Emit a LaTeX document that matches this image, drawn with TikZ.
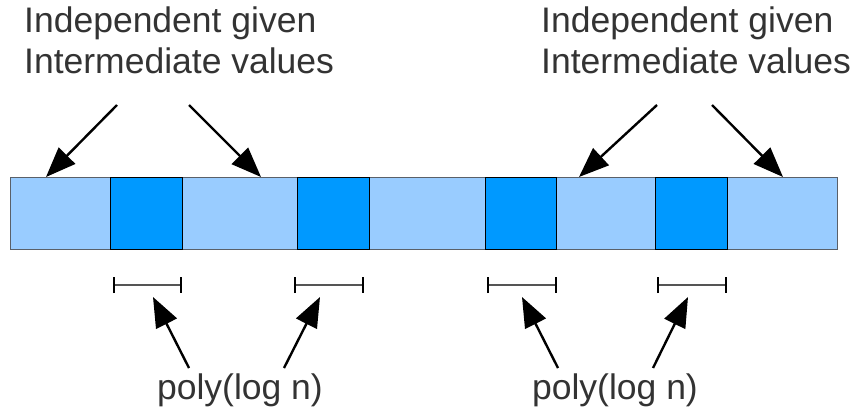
\documentclass[tikz,border=0pt]{standalone}
\usepackage{fontspec}
\setmainfont{Liberation Sans}
\usetikzlibrary{arrows.meta}
\definecolor{lightseg}{HTML}{99CCFF}
\definecolor{darkseg}{HTML}{0099FF}
\definecolor{segline}{HTML}{5A6068}
\definecolor{txt}{HTML}{333333}
\definecolor{brk}{HTML}{555555}
\begin{document}
\begin{tikzpicture}[x=1pt,y=-1pt,
  lightbox/.style={draw=segline,line width=1pt,fill=lightseg},
  darkbox/.style={draw=black,line width=1pt,fill=darkseg},
  ptr/.style={draw=black,line width=2.4pt,-{Triangle[length=30pt,width=23pt]}},
  span/.style={draw=brk,line width=1.3pt,{Bar[width=16pt,line width=1.6pt,color=black]}-{Bar[width=16pt,line width=1.6pt,color=black]}},
  lbl/.style={font=\fontsize{35.5}{41}\selectfont,text=txt,inner sep=0pt,align=left},
]
\useasboundingbox (0,0) rectangle (856,417);
% bar segments
\path[lightbox] (10,177) rectangle (110,249);
\path[lightbox] (182,177) rectangle (297,249);
\path[lightbox] (369,177) rectangle (485,249);
\path[lightbox] (556,177) rectangle (655,249);
\path[lightbox] (727,177) rectangle (837,249);
\path[darkbox] (110,177) rectangle (182,249);
\path[darkbox] (297,177) rectangle (369,249);
\path[darkbox] (485,177) rectangle (556,249);
\path[darkbox] (655,177) rectangle (727,249);
% labels
\node[lbl,anchor=base west] (tl) at (24,74) {Independent given\\Intermediate values};
\node[lbl,anchor=base west] (tr) at (541,74) {Independent given\\Intermediate values};
\node[lbl,anchor=base] (bl) at (240,399) {poly(log n)};
\node[lbl,anchor=base] (br) at (615,399) {poly(log n)};
% arrow coordinates
\coordinate (a1s) at (117,105); \coordinate (a1e) at (46,177);
\coordinate (a2s) at (189,105); \coordinate (a2e) at (261,177);
\coordinate (a3s) at (657,105); \coordinate (a3e) at (579,177);
\coordinate (a4s) at (712,105); \coordinate (a4e) at (783,177);
\coordinate (b1s) at (189,368); \coordinate (b1e) at (153,297);
\coordinate (b2s) at (284,368); \coordinate (b2e) at (320,297);
\coordinate (b3s) at (558,368); \coordinate (b3e) at (522,297);
\coordinate (b4s) at (653,368); \coordinate (b4e) at (688,297);
\draw[ptr] (a1s) -- (a1e);
\draw[ptr] (a2s) -- (a2e);
\draw[ptr] (a3s) -- (a3e);
\draw[ptr] (a4s) -- (a4e);
\draw[ptr] (b1s) -- (b1e);
\draw[ptr] (b2s) -- (b2e);
\draw[ptr] (b3s) -- (b3e);
\draw[ptr] (b4s) -- (b4e);
% spans
\coordinate (s1a) at (113,285); \coordinate (s1b) at (182,285);
\coordinate (s2a) at (294,285); \coordinate (s2b) at (364,285);
\coordinate (s3a) at (487,285); \coordinate (s3b) at (557,285);
\coordinate (s4a) at (657,285); \coordinate (s4b) at (727,285);
\draw[span] (s1a) -- (s1b);
\draw[span] (s2a) -- (s2b);
\draw[span] (s3a) -- (s3b);
\draw[span] (s4a) -- (s4b);
\end{tikzpicture}
\end{document}
